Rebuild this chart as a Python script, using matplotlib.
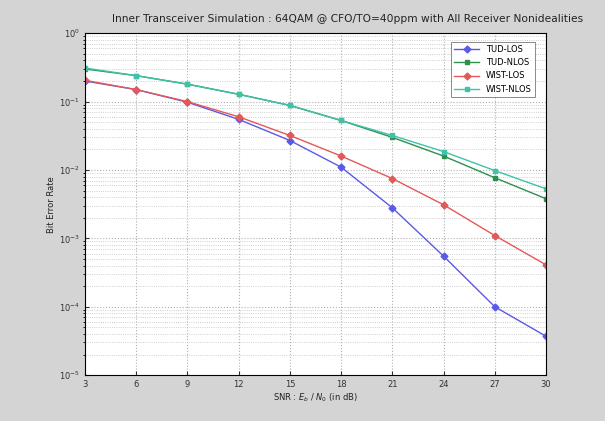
import matplotlib
matplotlib.use("Agg")
import matplotlib.pyplot as plt
from matplotlib.ticker import LogLocator, NullFormatter

snr = [3, 6, 9, 12, 15, 18, 21, 24, 27, 30]

tud_los   = [0.20, 0.15, 0.098, 0.055, 0.027, 0.011, 2.8e-3, 5.5e-4, 1.0e-4, 3.7e-5]
tud_nlos  = [0.30, 0.24, 0.18, 0.128, 0.088, 0.053, 0.030, 0.016, 7.7e-3, 3.8e-3]
wist_los  = [0.205, 0.15, 0.10, 0.060, 0.032, 0.016, 7.5e-3, 3.1e-3, 1.1e-3, 4.1e-4]
wist_nlos = [0.31, 0.24, 0.18, 0.128, 0.088, 0.053, 0.032, 0.0186, 9.8e-3, 5.3e-3]

labels = ["TUD-LOS", "TUD-NLOS", "WIST-LOS", "WIST-NLOS"]
series = [tud_los, tud_nlos, wist_los, wist_nlos]
styles = [
    dict(color="#5a5ae6", marker="D"),
    dict(color="#2f8f4f", marker="s"),
    dict(color="#e45858", marker="D"),
    dict(color="#3fc2aa", marker="s"),
]

bg = "#d4d4d4"
fig = plt.figure(figsize=(6.05, 4.21), dpi=100, facecolor=bg)
ax = fig.add_axes([0.1405, 0.109, 0.762, 0.812])

for lab, ys, st in zip(labels, series, styles):
    ax.semilogy(snr, ys, linewidth=1.0, markersize=3.5, label=lab, **st)

ax.set_xlim(3, 30)
ax.set_ylim(1e-5, 1)
ax.set_xticks(snr)
ax.yaxis.set_major_locator(LogLocator(base=10, numticks=10))
ax.yaxis.set_minor_locator(LogLocator(base=10, subs=range(2, 10), numticks=10))
ax.yaxis.set_minor_formatter(NullFormatter())
ax.tick_params(labelsize=6, direction="in", length=3, colors="#333333")
ax.tick_params(which="minor", length=1.5)

ax.grid(True, which="major", color="#b0b0b0", linestyle=":", linewidth=0.8)
ax.grid(True, which="minor", axis="y", color="#c0c0c0", linestyle=":", linewidth=0.6)

fig.text(0.575, 0.955,
         "Inner Transceiver Simulation : 64QAM @ CFO/TO=40ppm with All Receiver Nonidealities",
         fontsize=7.7, color="#222222", ha="center", va="center")
ax.set_xlabel("SNR : $E_b$ / $N_0$ (in dB)", fontsize=6, color="#222222", labelpad=2)
ax.set_ylabel("Bit Error Rate", fontsize=6, color="#222222", labelpad=2)

leg = ax.legend(loc="upper right", fontsize=6, frameon=True, fancybox=False,
                edgecolor="#555555", bbox_to_anchor=(0.976, 0.975), handlelength=3,
                borderaxespad=0)
leg.get_frame().set_linewidth(0.6)

fig.savefig("out.png", dpi=100, facecolor=bg)
